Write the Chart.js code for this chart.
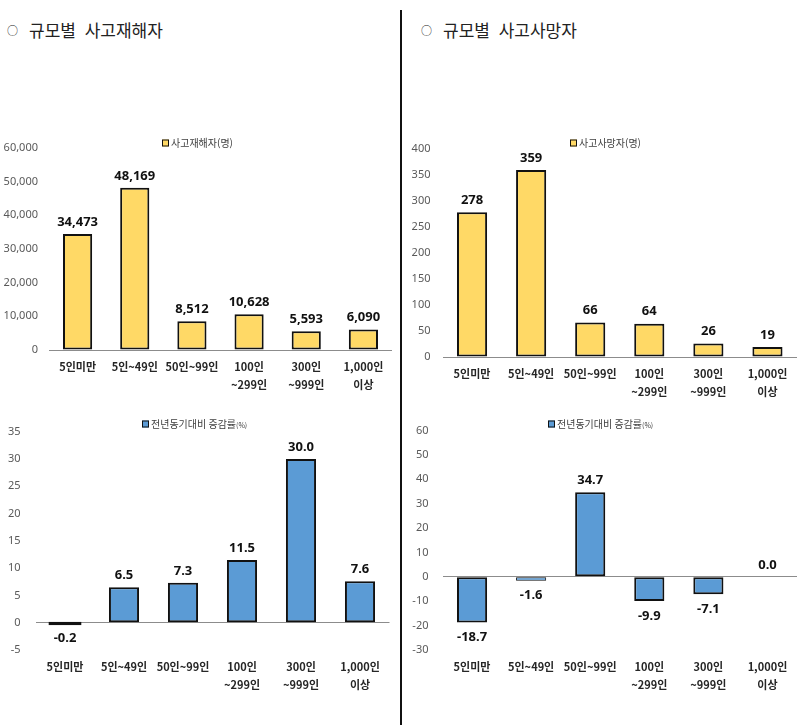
<!DOCTYPE html>
<html lang="ko">
<head>
<meta charset="utf-8">
<script src="https://cdn.jsdelivr.net/npm/chart.js@4.4.1/dist/chart.umd.min.js"></script>
<style>
body{margin:0;background:#fff;width:800px;height:725px;position:relative;overflow:hidden;font-family:"Noto Sans CJK KR",sans-serif}
.bullet{position:absolute;top:22px;font-size:11px;line-height:16px;color:#222}
.title{position:absolute;top:18px;font-size:17px;line-height:24px;color:#222;word-spacing:4px;white-space:pre}
.divider{position:absolute;left:400px;top:10px;width:2px;height:715px;background:#111}
canvas{position:absolute}
</style>
</head>
<body>
<div class="bullet" style="left:7px">○</div>
<div class="title" style="left:29px">규모별 사고재해자</div>
<div class="bullet" style="left:421px">○</div>
<div class="title" style="left:443px">규모별 사고사망자</div>
<div class="divider"></div>
<canvas id="injured" width="400" height="280" style="left:0;top:130px"></canvas>
<canvas id="deaths" width="400" height="280" style="left:400px;top:130px"></canvas>
<canvas id="injuredRate" width="400" height="315" style="left:0;top:410px"></canvas>
<canvas id="deathsRate" width="400" height="315" style="left:400px;top:410px"></canvas>
<script>
var CATEGORIES = [['5인미만'], ['5인~49인'], ['50인~99인'], ['100인', '~299인'], ['300인', '~999인'], ['1,000인', '이상']];
var INJURED = [34473, 48169, 8512, 10628, 5593, 6090];
var INJURED_RATE = [-0.2, 6.5, 7.3, 11.5, 30.0, 7.6];
var DEATHS = [278, 359, 66, 64, 26, 19];
var DEATHS_RATE = [-18.7, -1.6, 34.7, -9.9, -7.1, 0.0];

var YELLOW = '#FFD966',
    BLUE = '#5B9BD5',
    EDGE = '#111',
    FONT = '"Noto Sans CJK KR", "Noto Sans", sans-serif';

function formatValue(v, decimals) {
    if (decimals) {
        return v.toFixed(decimals);
    }
    return v.toLocaleString('en-US');
}

// 막대의 픽셀 높이 (0 값은 0)
function barHeight(c) {
    var y = c.chart.scales.y;
    if (!y || !c.raw) {
        return 0;
    }
    return Math.abs(y.getPixelForValue(c.raw) - y.getPixelForValue(0));
}

// 높이가 거의 없는 막대는 엑셀처럼 테두리만 보이게
function isTiny(c) {
    var h = barHeight(c);
    return h > 0 && h < 2;
}

// 막대 위/아래 값 표시
var valueLabels = {
    id: 'valueLabels',
    afterDatasetsDraw: function (chart, args, opts) {
        var ctx = chart.ctx,
            data = chart.data.datasets[0].data;
        ctx.save();
        ctx.font = 'bold 13px "Noto Sans", sans-serif';
        ctx.fillStyle = '#111';
        ctx.textAlign = 'center';
        ctx.textBaseline = 'middle';
        chart.getDatasetMeta(0).data.forEach(function (bar, i) {
            var v = data[i];
            ctx.fillText(formatValue(v, opts.decimals), bar.x, v < 0 ? bar.y + 15 : bar.y - 12);
        });
        ctx.restore();
    }
};

// 엑셀식 작은 범례
var boxLegend = {
    id: 'boxLegend',
    afterDraw: function (chart, args, opts) {
        var ctx = chart.ctx;
        ctx.save();
        ctx.fillStyle = opts.color;
        ctx.fillRect(opts.x, opts.y - 3.5, 7, 7);
        ctx.strokeStyle = EDGE;
        ctx.lineWidth = 1;
        ctx.strokeRect(opts.x + 0.5, opts.y - 3, 6, 6);
        ctx.fillStyle = '#404040';
        ctx.textBaseline = 'middle';
        ctx.font = '10px ' + FONT;
        ctx.fillText(opts.label, opts.x + 9, opts.y);
        if (opts.suffix) {
            var w = ctx.measureText(opts.label).width;
            ctx.font = '7px ' + FONT;
            ctx.fillText(opts.suffix, opts.x + 9 + w, opts.y + 1);
        }
        ctx.restore();
    }
};

function createBar(id, values, color, axis, legend, layout) {
    legend.color = color;
    return new Chart(document.getElementById(id).getContext('2d'), {
        type: 'bar',
        data: {
            labels: CATEGORIES,
            datasets: [{
                data: values,
                backgroundColor: function (c) { return isTiny(c) ? EDGE : color; },
                inflateAmount: function (c) { return isTiny(c) ? 1.5 : 'auto'; },
                borderColor: EDGE,
                borderWidth: function (c) { var h = barHeight(c); return h > 0 && h < 6 ? 1 : 2; },
                borderSkipped: false,
                categoryPercentage: 1,
                barPercentage: 0.51
            }]
        },
        options: {
            responsive: false,
            animation: false,
            layout: {padding: {top: layout.top, right: layout.right, bottom: 0, left: 0}},
            scales: {
                x: {
                    grid: {display: false, drawTicks: false},
                    border: {display: false},
                    ticks: {
                        padding: 8,
                        color: '#262626',
                        font: {family: FONT, size: 11, weight: 'bold', lineHeight: 1.6},
                        maxRotation: 0,
                        autoSkip: false
                    },
                    afterFit: function (scale) { scale.height = layout.xHeight; }
                },
                y: {
                    min: axis.min,
                    max: axis.max,
                    border: {display: false},
                    grid: {
                        drawTicks: false,
                        lineWidth: 1,
                        color: function (c) { return c.tick && c.tick.value === 0 ? '#8c8c8c' : 'rgba(0,0,0,0)'; }
                    },
                    ticks: {
                        stepSize: axis.step,
                        padding: layout.tickPad,
                        color: '#595959',
                        font: {family: '"Noto Sans", sans-serif', size: 11},
                        callback: function (v) { return v.toLocaleString('en-US'); }
                    },
                    afterFit: function (scale) { scale.width = layout.yWidth; }
                }
            },
            plugins: {
                legend: {display: false},
                tooltip: {enabled: false},
                valueLabels: {decimals: axis.decimals},
                boxLegend: legend
            }
        },
        plugins: [valueLabels, boxLegend]
    });
}

createBar('injured', INJURED, YELLOW,
    {min: 0, max: 60000, step: 10000, decimals: 0},
    {x: 162, y: 13, label: '사고재해자(명)'},
    {top: 18, right: 8, xHeight: 60, yWidth: 49, tickPad: 11});

createBar('deaths', DEATHS, YELLOW,
    {min: 0, max: 400, step: 50, decimals: 0},
    {x: 170, y: 13, label: '사고사망자(명)'},
    {top: 18, right: 3, xHeight: 53, yWidth: 42.5, tickPad: 12});

createBar('injuredRate', INJURED_RATE, BLUE,
    {min: -5, max: 35, step: 5, decimals: 1},
    {x: 142, y: 14, label: '전년동기대비 증감률', suffix: '(%)'},
    {top: 16, right: 10.5, xHeight: 75, yWidth: 35.5, tickPad: 15});

createBar('deathsRate', DEATHS_RATE, BLUE,
    {min: -30, max: 60, step: 10, decimals: 1},
    {x: 148, y: 14, label: '전년동기대비 증감률', suffix: '(%)'},
    {top: 16, right: 3, xHeight: 75, yWidth: 42.5, tickPad: 14});
</script>
</body>
</html>
